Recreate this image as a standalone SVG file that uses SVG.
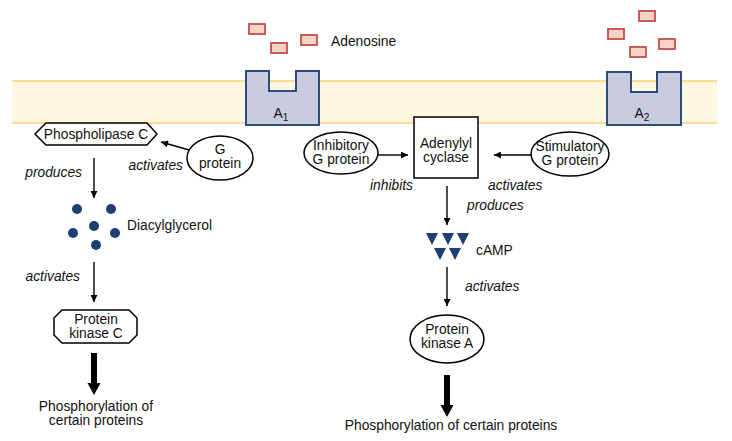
<svg xmlns="http://www.w3.org/2000/svg" width="732" height="441" viewBox="0 0 732 441">
<defs>
<marker id="ah" viewBox="0 0 10 10" refX="10" refY="5" markerWidth="9" markerHeight="7" markerUnits="userSpaceOnUse" orient="auto">
<path d="M0,0 L10,5 L0,10 z" fill="#000"/>
</marker>
<style>
text{font-family:"Liberation Sans",Arial,Helvetica,sans-serif;font-size:13.8px;fill:#111}
.c{text-anchor:middle}
.i{font-style:italic}
.n{fill:#fff;stroke:#000;stroke-width:1.5}
.rc{fill:#c9cbe1;stroke:#2c4c7e;stroke-width:2}
.ad{fill:#f7d3c5;stroke:#c0504d;stroke-width:1.8}
.dot{fill:#1e3f72}
.ln{stroke:#000;stroke-width:1.4;fill:none;marker-end:url(#ah)}
.thick{fill:#000}
</style>
</defs>
<rect width="732" height="441" fill="#fff"/>
<g id="membrane">
<rect x="12" y="81" width="705" height="42" fill="#fef7e2"/>
<line x1="12" y1="81" x2="717" y2="81" stroke="#f8dd92" stroke-width="2"/>
<line x1="12" y1="123" x2="717" y2="123" stroke="#f8dd92" stroke-width="2"/>
</g>
<g id="adenosine">
<rect class="ad" x="249" y="24" width="16" height="10"/>
<rect class="ad" x="271" y="43" width="16" height="10"/>
<rect class="ad" x="301" y="35" width="16" height="10"/>
<rect class="ad" x="639" y="11" width="16" height="10"/>
<rect class="ad" x="608" y="29" width="16" height="10"/>
<rect class="ad" x="659" y="39" width="16" height="10"/>
<rect class="ad" x="630" y="47" width="16" height="10"/>
<text x="331" y="46">Adenosine</text>
</g>
<g id="A1">
<path class="rc" d="M246,71 H269 V91 H296 V71 H319 V125 H246 Z"/>
<text class="c" x="281" y="118">A<tspan font-size="10" dy="3">1</tspan></text>
</g>
<g id="A2">
<path class="rc" d="M607,72 H631 V92 H657 V72 H681 V125 H607 Z"/>
<text class="c" x="642" y="118">A<tspan font-size="10" dy="3">2</tspan></text>
</g>
<g id="phospholipaseC">
<path class="n" d="M35,134 L46,123 H147 L157,134 L147,145 H46 Z"/>
<text class="c" x="96" y="139">Phospholipase C</text>
</g>
<g id="gprotein">
<ellipse class="n" cx="220" cy="158" rx="33" ry="22"/>
<text class="c" x="220" y="154">G</text>
<text class="c" x="220" y="168">protein</text>
</g>
<g id="diacylglycerol">
<circle class="dot" cx="77" cy="209" r="5"/>
<circle class="dot" cx="111" cy="209" r="5"/>
<circle class="dot" cx="94" cy="226" r="5"/>
<circle class="dot" cx="73" cy="233" r="5"/>
<circle class="dot" cx="115" cy="233" r="5"/>
<circle class="dot" cx="96" cy="245" r="5"/>
<text x="127" y="230">Diacylglycerol</text>
</g>
<g id="proteinKinaseC">
<path class="n" d="M62,310 H129 L137,318 V335 L129,343 H62 L54,335 V318 Z"/>
<text class="c" x="96" y="324">Protein</text>
<text class="c" x="96" y="338">kinase C</text>
</g>
<g id="phosLeft">
<text class="c" x="96" y="411">Phosphorylation of</text>
<text class="c" x="96" y="425">certain proteins</text>
</g>
<g id="inhibitoryG">
<ellipse class="n" cx="341" cy="153" rx="37" ry="21"/>
<text class="c" x="341" y="150">Inhibitory</text>
<text class="c" x="341" y="164">G protein</text>
</g>
<g id="adenylylCyclase">
<rect class="n" x="414" y="117" width="64" height="61"/>
<text class="c" x="446" y="148">Adenylyl</text>
<text class="c" x="446" y="162">cyclase</text>
</g>
<g id="stimulatoryG">
<ellipse class="n" cx="570" cy="154" rx="39" ry="22"/>
<text class="c" x="570" y="151">Stimulatory</text>
<text class="c" x="570" y="165">G protein</text>
</g>
<g id="cAMP">
<path class="dot" d="M426,233 H438 L432,245 Z M442,233 H454 L448,245 Z M457,233 H469 L463,245 Z M434,248 H446 L440,260 Z M449,248 H461 L455,260 Z"/>
<text x="476" y="255">cAMP</text>
</g>
<g id="proteinKinaseA">
<ellipse class="n" cx="447" cy="339" rx="37" ry="24"/>
<text class="c" x="447" y="334">Protein</text>
<text class="c" x="447" y="348">kinase A</text>
</g>
<g id="phosRight">
<text class="c" x="451" y="430">Phosphorylation of certain proteins</text>
</g>
<g id="connectors">
<line class="ln" x1="189" y1="150" x2="161" y2="142"/>
<text class="i" x="183" y="170" text-anchor="end">activates</text>
<line class="ln" x1="94" y1="158" x2="94" y2="198"/>
<text class="i" x="82" y="177" text-anchor="end">produces</text>
<line class="ln" x1="94" y1="262" x2="94" y2="302"/>
<text class="i" x="80" y="281" text-anchor="end">activates</text>
<path class="thick" d="M91,353 H97 V383 H100.5 L94,395 L87.5,383 H91 Z"/>
<line class="ln" x1="378" y1="155" x2="408" y2="155"/>
<text class="i" x="370" y="190">inhibits</text>
<line class="ln" x1="531" y1="155" x2="494" y2="155"/>
<text class="i" x="488" y="190">activates</text>
<line class="ln" x1="447" y1="186" x2="447" y2="225"/>
<text class="i" x="467" y="210">produces</text>
<line class="ln" x1="447" y1="267" x2="447" y2="306"/>
<text class="i" x="465" y="291">activates</text>
<path class="thick" d="M444,375 H450 V405 H453.5 L447,417 L440.5,405 H444 Z"/>
</g>
</svg>
